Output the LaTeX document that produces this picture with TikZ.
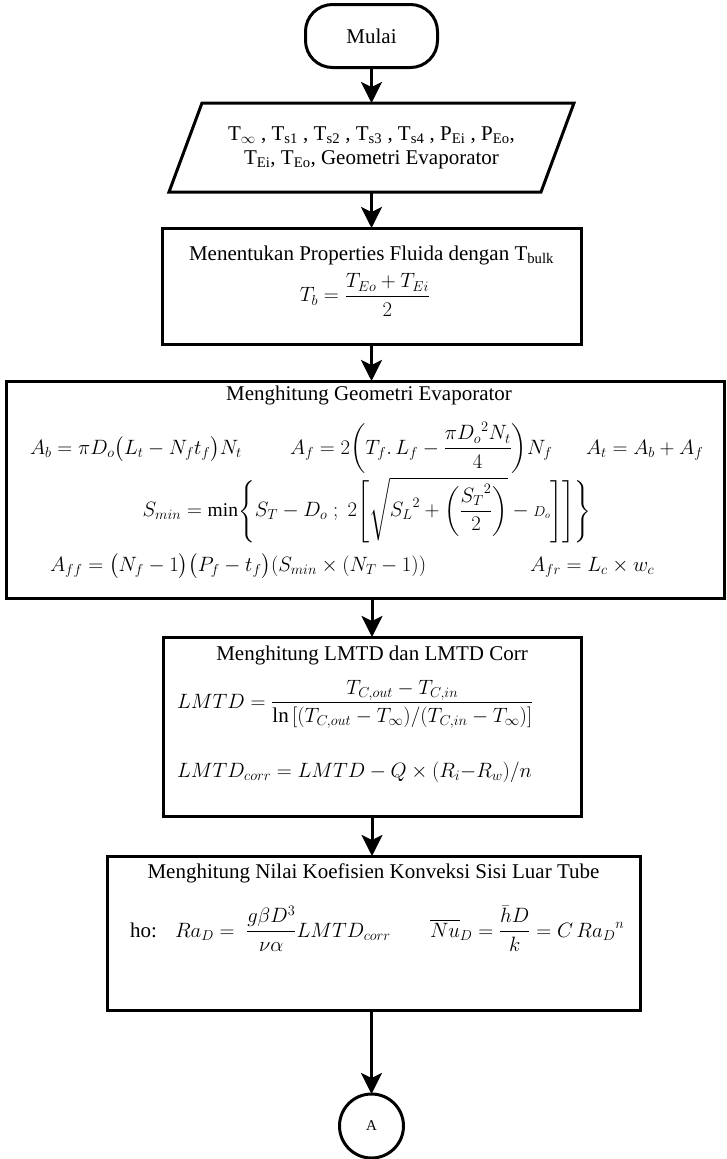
\documentclass[tikz,border=0pt]{standalone}
\usepackage{amsmath}
\usepackage{fontspec}
\setmainfont{Liberation Serif}
\usetikzlibrary{arrows.meta,calc}

\begin{document}
\begin{tikzpicture}[x=1pt,y=-1pt,
  every node/.style={font=\fontsize{21}{24}\selectfont, inner sep=0pt, outer sep=0pt},
  boxline/.style={draw=black, line width=3pt},
  procbox/.style={boxline, rectangle},
  flow/.style={line width=3pt, -{Stealth[length=21pt,width=21pt,inset=5pt]}},
]
\useasboundingbox (0,0) rectangle (726,1159);

% start terminator
\node[boxline, rounded corners=27pt, minimum width=132pt, minimum height=63pt] (start) at (371.5,36) {Mulai};

% input data (parallelogram drawn around a plain node)
\node[minimum width=372pt, minimum height=89pt, align=center] (input) at (371.5,147.5)
  {T\textsubscript{$\infty$} , T\textsubscript{s1} , T\textsubscript{s2} , T\textsubscript{s3} , T\textsubscript{s4} , P\textsubscript{Ei} , P\textsubscript{Eo},\\
   T\textsubscript{Ei}, T\textsubscript{Eo}, Geometri Evaporator};
\draw[boxline, line join=miter]
  ($(input.north west)+(16.5,0)$) -- ($(input.north east)+(16.5,0)$) --
  ($(input.south east)+(-16.5,0)$) -- ($(input.south west)+(-16.5,0)$) -- cycle;

% bulk temperature
\node[procbox, minimum width=419pt, minimum height=116pt] (bulk) at (371.5,286) {};
\node (bulktitle) at (371.5,255) {Menentukan Properties Fluida dengan T\textsubscript{bulk}};
\node (bulkeq) at (365,295) {$T_b = \dfrac{T_{Eo}+T_{Ei}}{2}$};

% evaporator geometry
\node[procbox, minimum width=718pt, minimum height=217pt] (geo) at (365,489.5) {};
\node (geotitle) at (369,395) {Menghitung Geometri Evaporator};
\node[anchor=base west] (ab) at (30,454) {$A_b = \pi D_o\bigl(L_t - N_f t_f\bigr)N_t$};
\node[anchor=base west] (af) at (290,454) {$A_f = 2\biggl(T_f.\,L_f - \dfrac{\pi {D_o}^2 N_t}{4}\biggr)N_f$};
\node[anchor=base west] (at) at (586,454) {$A_t = A_b + A_f$};
\node[font=\fontsize{19.5}{23}\selectfont] (smin) at (367,510)
  {$S_{min} = \min\Biggl\{S_T - D_o\;;\;2\Biggl[\sqrt{{S_L}^2 + \biggl(\dfrac{{S_T}^2}{2}\biggr)} - {\scriptstyle D_o}\Biggr]\Biggr]\Biggr\}$};
\node[anchor=base west] (aff) at (50,571) {$A_{ff} = \bigl(N_f - 1\bigr)\bigl(P_f - t_f\bigr)(S_{min}\times(N_T - 1))$};
\node[anchor=base west] (afr) at (530,571) {$A_{fr} = L_c \times w_c$};

% LMTD
\node[procbox, minimum width=418pt, minimum height=179pt] (lmtd) at (372,726.5) {};
\node (lmtdtitle) at (372,655) {Menghitung LMTD dan LMTD Corr};
\node[anchor=west] (lmtdeq) at (177,704) {$LMTD = \dfrac{T_{C,out} - T_{C,in}}{\ln\,[(T_{C,out} - T_\infty)/(T_{C,in} - T_\infty)]}$};
\node[anchor=base west] (corr) at (177,777) {$LMTD_{corr} = LMTD - Q\times(R_i{-}R_w)/n$};

% outside convection coefficient
\node[procbox, minimum width=533pt, minimum height=154pt] (conv) at (373.5,933) {};
\node (convtitle) at (373.5,873) {Menghitung Nilai Koefisien Konveksi Sisi Luar Tube};
\node[anchor=base west] (ho) at (130,937) {ho:};
\node[anchor=base west] (ra) at (175,937) {$Ra_D =\; \dfrac{g\beta D^3}{\nu\alpha} LMTD_{corr}$};
\node[anchor=base west] (nu) at (430,937) {$\overline{Nu}_D = \dfrac{\bar{h}D}{k} = C\,{Ra_D}^n$};

% off-page connector
\node[boxline, circle, minimum size=64pt, font=\fontsize{15}{18}\selectfont] (conA) at (371.5,1126) {A};

% flow lines
\draw[flow] (start.south) -- (input.north);
\draw[flow] (input.south) -- (bulk.north);
\draw[flow] (bulk.south) -- (bulk.south |- geo.north);
\draw[flow] (lmtd.north |- geo.south) -- (lmtd.north);
\draw[flow] (lmtd.south) -- (lmtd.south |- conv.north);
\draw[flow] (conA |- conv.south) -- (conA.north);
\end{tikzpicture}
\end{document}
